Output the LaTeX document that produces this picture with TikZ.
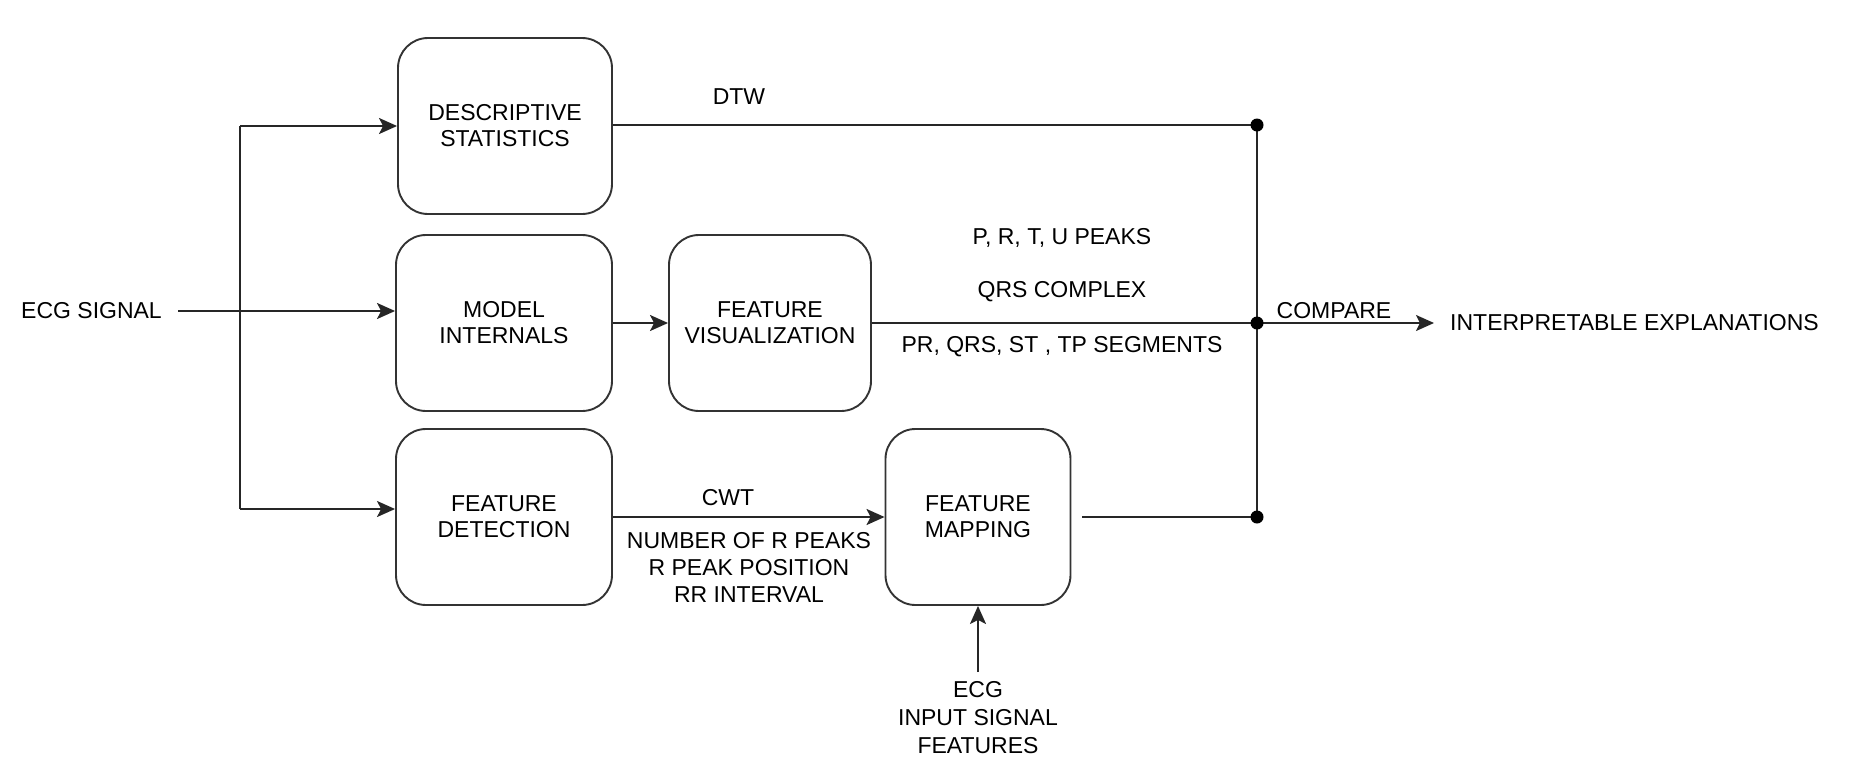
\documentclass[tikz,border=0pt]{standalone}
\usepackage{fontspec}
\setmainfont{Liberation Sans}
\usetikzlibrary{arrows.meta,calc}
\begin{document}
\begin{tikzpicture}[x=1pt,y=-1pt,
  every node/.style={font=\fontsize{23}{26}\selectfont, text=black},
  box/.style={draw=black!80, line width=1.9pt, rounded corners=30pt, align=center, inner sep=0pt},
  lbl/.style={align=center, inner sep=0pt},
  ln/.style={draw=black!85, line width=1.9pt},
  arr/.style={ln, -{Stealth[length=18pt,width=16pt,inset=4pt]}},
  dot/.style={fill=black}]
\useasboundingbox (0,0) rectangle (1864,780);
% boxes
\node[box, minimum width=214pt, minimum height=176pt] (ds) at (505,126) {DESCRIPTIVE\\STATISTICS};
\node[box, minimum width=216pt, minimum height=176pt] (mi) at (504,323) {MODEL\\INTERNALS};
\node[box, minimum width=216pt, minimum height=176pt] (fd) at (504,517) {FEATURE\\DETECTION};
\node[box, minimum width=202pt, minimum height=176pt] (fv) at (770,323) {FEATURE\\VISUALIZATION};
\node[box, minimum width=185pt, minimum height=176pt] (fm) at (978,517) {FEATURE\\MAPPING};
% texts
\node[lbl, anchor=west] (ecg) at (21,311) {ECG SIGNAL};
\node[lbl, anchor=west] (out) at (1450,323) {INTERPRETABLE EXPLANATIONS};
\node[lbl] (dtw) at (739,97) {DTW};
\node[lbl] (prt) at (1062,238) {P, R, T, U PEAKS};
\node[lbl] (qrs) at (1062,292) {QRS COMPLEX};
\node[lbl] (seg) at (1062,347) {PR, QRS, ST , TP SEGMENTS};
\node[lbl] (cmp) at (1334,311) {COMPARE};
\node[lbl] (cwt) at (728,498) {CWT};
\node[lbl, font=\fontsize{23}{27}\selectfont] (rpk) at (749,567) {NUMBER OF R PEAKS\\R PEAK POSITION\\RR INTERVAL};
\node[lbl, font=\fontsize{23}{28}\selectfont, anchor=north] (ecgin) at (978,681) {ECG\\INPUT SIGNAL\\FEATURES};
% coordinates
\coordinate (ecgend) at (178,311);
\coordinate (split) at (240,311);
\coordinate (top) at (240,126);
\coordinate (bot) at (240,509);
\coordinate (jA) at (1257,125);
\coordinate (jB) at (1257,323);
\coordinate (jC) at (1257,517);
\coordinate (outend) at (1434,323);
\coordinate (fmin) at (978,672);
% left connectors
\draw[ln] (ecgend) -- (split);
\draw[ln] (top) -- (bot);
\draw[arr] (top) -- (top -| ds.west);
\draw[arr] (split) -- (split -| mi.west);
\draw[arr] (bot) -- (bot -| fd.west);
% middle
\draw[arr] (mi.east) -- (fv.west);
\draw[arr] (fd.east) -- (fm.west);
\draw[arr] (fmin) -- (fm.south);
% right
\draw[ln] (ds.east |- jA) -- (jA);
\draw[ln] (fv.east) -- (jB);
\draw[ln, shorten <=11pt] (fm.east) -- (jC);
\draw[ln] (jA) -- (jC);
\draw[arr] (jB) -- (outend);
\fill[dot] (jA) circle (6.5pt);
\fill[dot] (jB) circle (6.5pt);
\fill[dot] (jC) circle (6.5pt);
\end{tikzpicture}
\end{document}
